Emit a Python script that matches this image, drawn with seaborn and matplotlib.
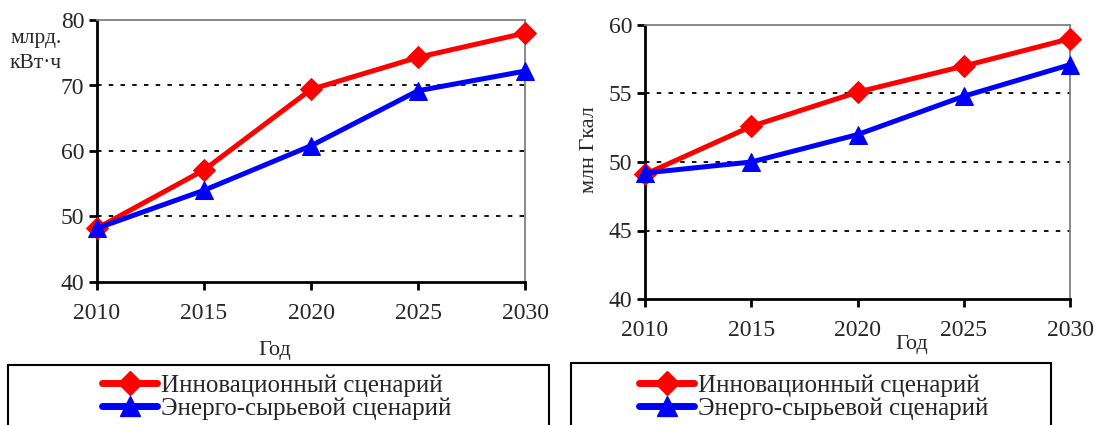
import matplotlib
matplotlib.use("Agg")
import matplotlib.pyplot as plt
import seaborn as sns
import pandas as pd
from matplotlib.patches import Rectangle
from matplotlib.lines import Line2D

years = [2010, 2015, 2020, 2025, 2030]
series_names = ["Инновационный сценарий", "Энерго-сырьевой сценарий"]
elec_innov = [48.2, 57.1, 69.4, 74.3, 78.0]
elec_energy = [48.2, 54.0, 60.8, 69.2, 72.2]
heat_innov = [49.1, 52.6, 55.1, 57.0, 59.0]
heat_energy = [49.2, 50.0, 52.0, 54.8, 57.1]
left_yticks = [40, 50, 60, 70, 80]
right_yticks = [40, 45, 50, 55, 60]
left_ylabel = "млрд.\nкВт·ч"
right_ylabel = "млн Гкал"
xlabel = "Год"

sns.set_theme(style="white")
plt.rcParams['font.family'] = ['Liberation Serif', 'DejaVu Serif']
plt.rcParams['axes.unicode_minus'] = False

colors = {series_names[0]: "#FF0000", series_names[1]: "#0000FF"}
markers = {series_names[0]: "D", series_names[1]: "^"}
msizes = {series_names[0]: 11, series_names[1]: 13}


def make_df(a, b):
    return pd.DataFrame({
        "year": years * 2,
        "value": a + b,
        "series": [series_names[0]] * len(years) + [series_names[1]] * len(years),
    })


fig = plt.figure(figsize=(10.95, 4.25), dpi=100)
ax1 = fig.add_axes([97 / 1095, 1 - 282 / 425, 428 / 1095, 262 / 425])
ax2 = fig.add_axes([645 / 1095, 1 - 299 / 425, 425 / 1095, 274 / 425])

FS = 17


def draw(ax, df, yticks, grid_vals):
    for name in series_names:
        sub = df[df.series == name]
        sns.lineplot(data=sub, x="year", y="value", ax=ax, color=colors[name],
                     marker=markers[name], markersize=msizes[name],
                     markeredgecolor=colors[name], linewidth=3.6,
                     legend=False, zorder=5, clip_on=False)
    ax.set_xlim(years[0], years[-1])
    ax.set_ylim(yticks[0], yticks[-1])
    ax.set_xticks(years)
    ax.set_yticks(yticks)
    for g in grid_vals:
        ax.axhline(g, color="black", linestyle=(0, (2.5, 4)), linewidth=1.3, zorder=1)
    for s in ["left", "bottom"]:
        ax.spines[s].set_color("black")
        ax.spines[s].set_linewidth(2)
    for s in ["top", "right"]:
        ax.spines[s].set_color("#808080")
        ax.spines[s].set_linewidth(1.3)
        ax.spines[s].set_visible(True)
    ax.tick_params(axis="both", direction="out", length=6, width=2,
                   color="black", labelsize=FS, bottom=True, left=True, pad=3)
    ax.tick_params(axis="x", pad=9)
    ax.set_xlabel("")
    ax.set_ylabel("")


draw(ax1, make_df(elec_innov, elec_energy), left_yticks, [50, 60, 70])
draw(ax2, make_df(heat_innov, heat_energy), right_yticks, [45, 50, 55])

fig.text(10 / 1095, 1 - 51 / 425, left_ylabel, fontsize=15.5, ha="left", va="center",
         linespacing=1.5)
fig.text(590 / 1095, 1 - 150 / 425, right_ylabel, fontsize=16, ha="center", va="center",
         rotation=90)
fig.text(275 / 1095, 1 - 350 / 425, xlabel, fontsize=16, ha="center", va="center")
fig.text(912 / 1095, 1 - 344 / 425, xlabel, fontsize=16, ha="center", va="center")

handles = [Line2D([], [], color=colors[n], marker=markers[n], markersize=msizes[n] + 1,
                  linewidth=5) for n in series_names]

for (x0, x1, ytop, cx) in [(8, 549, 365, 277), (571, 1051, 363, 814)]:
    rect = Rectangle((x0 / 1095, -0.05), (x1 - x0) / 1095, (425 - ytop) / 425 + 0.05,
                     transform=fig.transFigure, fill=False, edgecolor="black",
                     linewidth=1.5, clip_on=False)
    fig.add_artist(rect)
    fig.legend(handles, series_names, loc="center", bbox_to_anchor=(cx / 1095, 1 - 397 / 425),
               frameon=False, fontsize=18, handlelength=2.2, handletextpad=0.15,
               labelspacing=0.0, borderpad=0)

fig.savefig("out.png", dpi=100, facecolor="white")
